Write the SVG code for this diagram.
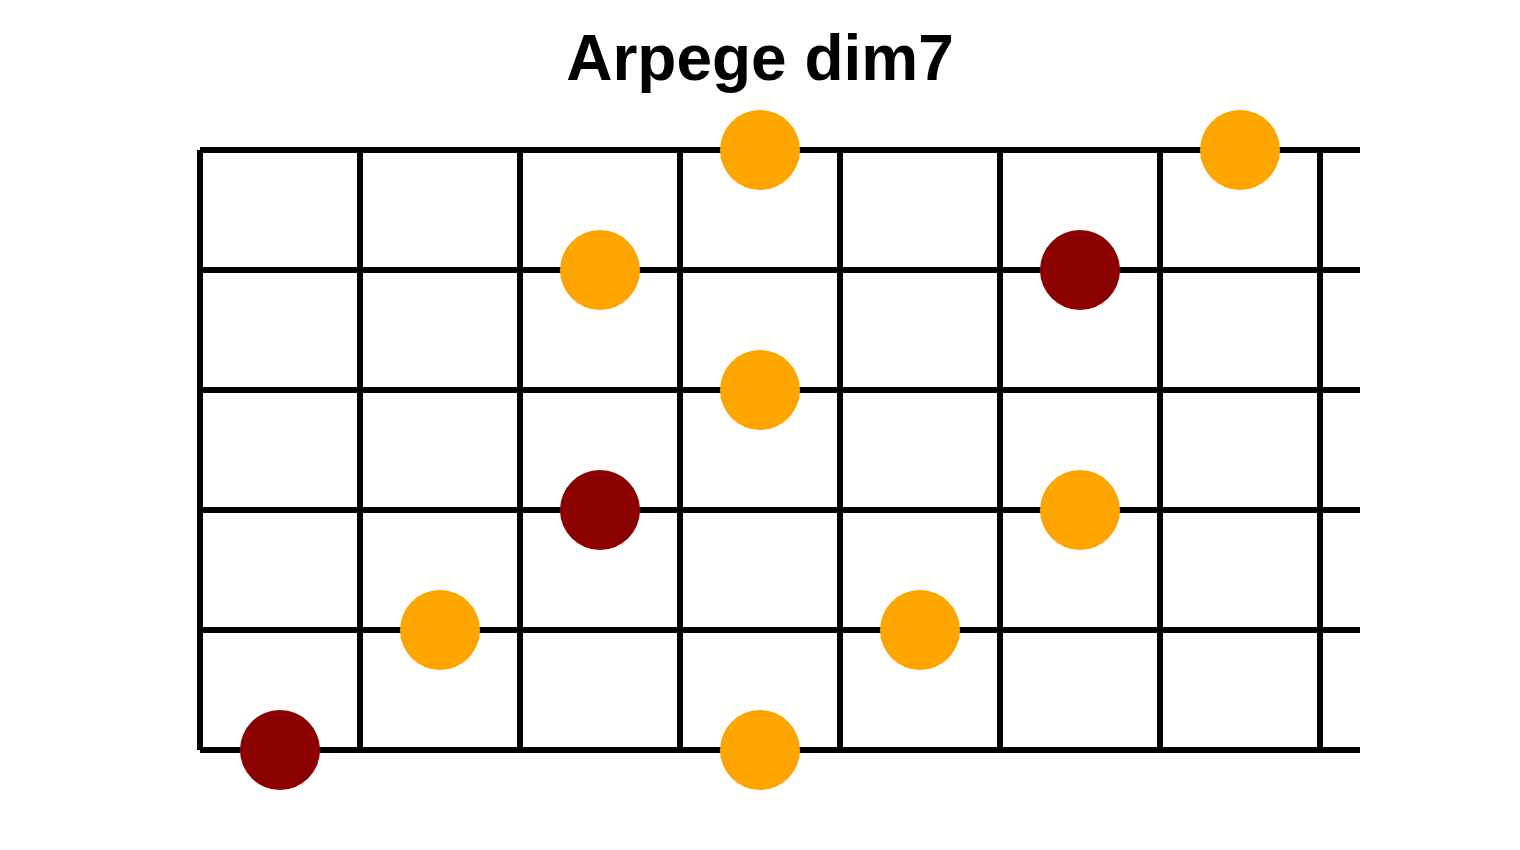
<svg xmlns="http://www.w3.org/2000/svg" width="1520" height="850" viewBox="0 0 1520 850">
<style>
.grid line{stroke:#000;stroke-width:6;stroke-linecap:butt}
.note{fill:#FFA500}
.root{fill:#8B0000}
.title{font-family:"Liberation Sans",Arial,sans-serif;font-weight:bold;font-size:64px;fill:#000}
</style>
<rect width="1520" height="850" fill="#fff"/>
<text class="title" x="760" y="80" text-anchor="middle">Arpege dim7</text>
<g id="grid" class="grid">
<line x1="200" y1="150" x2="1360" y2="150"/>
<line x1="200" y1="270" x2="1360" y2="270"/>
<line x1="200" y1="390" x2="1360" y2="390"/>
<line x1="200" y1="510" x2="1360" y2="510"/>
<line x1="200" y1="630" x2="1360" y2="630"/>
<line x1="200" y1="750" x2="1360" y2="750"/>
<line x1="200" y1="150" x2="200" y2="750"/>
<line x1="360" y1="150" x2="360" y2="750"/>
<line x1="520" y1="150" x2="520" y2="750"/>
<line x1="680" y1="150" x2="680" y2="750"/>
<line x1="840" y1="150" x2="840" y2="750"/>
<line x1="1000" y1="150" x2="1000" y2="750"/>
<line x1="1160" y1="150" x2="1160" y2="750"/>
<line x1="1320" y1="150" x2="1320" y2="750"/>
</g>
<g id="notes">
<circle class="note" cx="760" cy="150" r="40"/>
<circle class="note" cx="1240" cy="150" r="40"/>
<circle class="note" cx="600" cy="270" r="40"/>
<circle class="root" cx="1080" cy="270" r="40"/>
<circle class="note" cx="760" cy="390" r="40"/>
<circle class="root" cx="600" cy="510" r="40"/>
<circle class="note" cx="1080" cy="510" r="40"/>
<circle class="note" cx="440" cy="630" r="40"/>
<circle class="note" cx="920" cy="630" r="40"/>
<circle class="root" cx="280" cy="750" r="40"/>
<circle class="note" cx="760" cy="750" r="40"/>
</g>
</svg>
